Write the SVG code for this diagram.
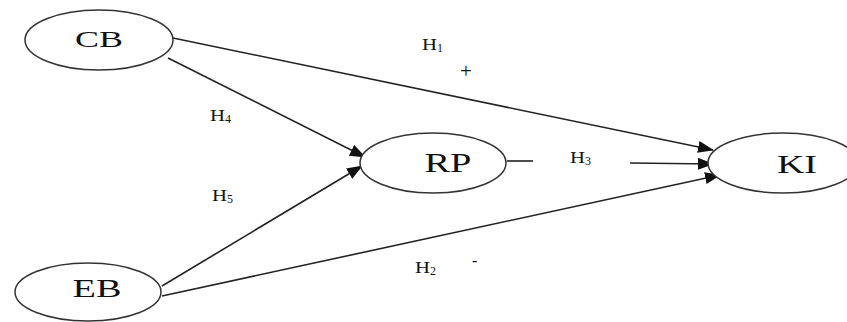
<svg xmlns="http://www.w3.org/2000/svg" width="847" height="322" viewBox="0 0 847 322">
<style>
.node ellipse{fill:#fff;stroke:#333;stroke-width:1.5}
.node text{font-family:"Liberation Serif",serif;fill:#111;text-anchor:middle}
.lbl{font-family:"Liberation Serif",serif;font-size:16px;fill:#111}
.sub{font-size:12px}
.plus{font-size:21px}
.edges line{stroke:#222;stroke-width:1.6}
</style>
<defs>
<marker id="arr" markerWidth="16" markerHeight="12" refX="15" refY="6" orient="auto" markerUnits="userSpaceOnUse">
<path d="M0,0 L16,6 L0,12 Z" fill="#111"/>
</marker>
</defs>
<rect width="847" height="322" fill="#fff"/>
<g class="edges">
<line x1="173" y1="38" x2="713" y2="150" marker-end="url(#arr)"/>
<line x1="168" y1="58" x2="365" y2="157" marker-end="url(#arr)"/>
<line x1="162" y1="286" x2="362" y2="166" marker-end="url(#arr)"/>
<line x1="162" y1="296" x2="720" y2="175" marker-end="url(#arr)"/>
<line x1="507" y1="161" x2="533" y2="161"/>
<line x1="630" y1="163" x2="713" y2="164" marker-end="url(#arr)"/>
</g>
<g id="CB" class="node"><ellipse cx="99" cy="40" rx="74" ry="30"/><text x="99" y="47" font-size="23" textLength="48" lengthAdjust="spacingAndGlyphs">CB</text></g>
<g id="EB" class="node"><ellipse cx="88" cy="292" rx="73" ry="29"/><text x="97" y="297" font-size="25" textLength="49" lengthAdjust="spacingAndGlyphs">EB</text></g>
<g id="RP" class="node"><ellipse cx="433" cy="163" rx="73" ry="30"/><text x="448" y="172" font-size="27" textLength="47" lengthAdjust="spacingAndGlyphs">RP</text></g>
<g id="KI" class="node"><ellipse cx="783" cy="163" rx="75" ry="30"/><text x="797" y="173" font-size="26" textLength="40" lengthAdjust="spacingAndGlyphs">KI</text></g>
<text class="lbl" x="422" y="50"><tspan textLength="15" lengthAdjust="spacingAndGlyphs">H</tspan><tspan class="sub" dy="2">1</tspan></text>
<text class="lbl plus" x="460" y="78">+</text>
<text class="lbl" x="210" y="121"><tspan textLength="15" lengthAdjust="spacingAndGlyphs">H</tspan><tspan class="sub" dy="2">4</tspan></text>
<text class="lbl" x="212" y="201"><tspan textLength="15" lengthAdjust="spacingAndGlyphs">H</tspan><tspan class="sub" dy="2">5</tspan></text>
<text class="lbl" x="570" y="163"><tspan textLength="15" lengthAdjust="spacingAndGlyphs">H</tspan><tspan class="sub" dy="2">3</tspan></text>
<text class="lbl" x="415" y="273"><tspan textLength="15" lengthAdjust="spacingAndGlyphs">H</tspan><tspan class="sub" dy="2">2</tspan></text>
<text class="lbl" x="472" y="266">-</text>
</svg>
